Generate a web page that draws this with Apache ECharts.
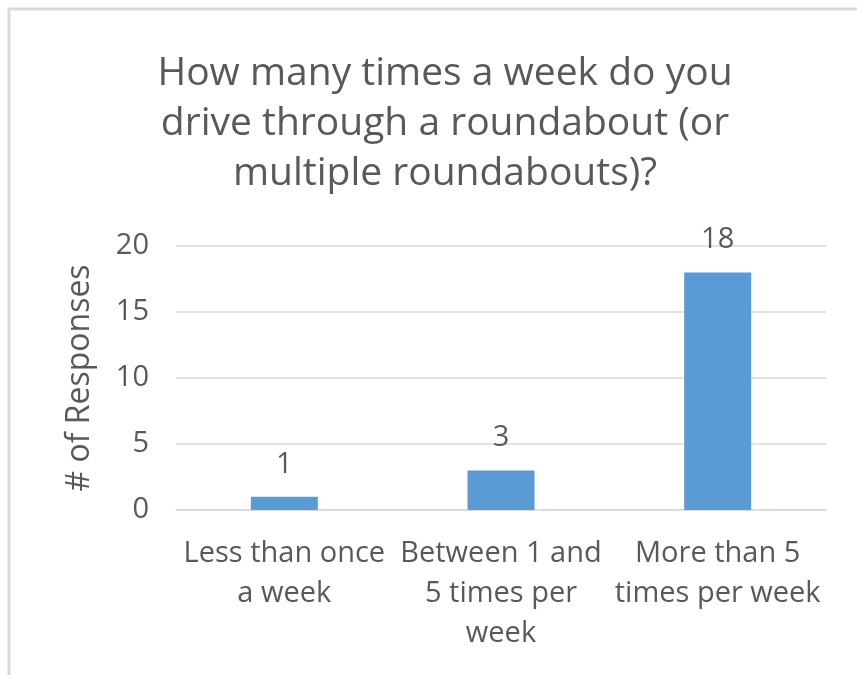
<!DOCTYPE html>
<html>
<head>
<meta charset="utf-8">
<script src="https://cdn.jsdelivr.net/npm/echarts@6/dist/echarts.min.js"></script>
<style>
html,body{margin:0;padding:0;background:#fff;}
#main{width:857px;height:675px;}
</style>
</head>
<body>
<div id="main"></div>
<script>
// survey data
var categories = ['Less than once\na week', 'Between 1 and\n5 times per\nweek', 'More than 5\ntimes per week'];
var responses = [1, 3, 18];
var yTicks = {min: 0, max: 20, interval: 5};

var txt = '#595959';
var font = 'Open Sans';
var myChart = echarts.init(document.getElementById('main'));
var option = {
    backgroundColor: '#fff',
    title: {
        text: 'How many times a week do you\ndrive through a roundabout (or\nmultiple roundabouts)?',
        left: 440,
        top: 44,
        textAlign: 'center',
        textStyle: {fontFamily: font, fontSize: 39, fontWeight: 'normal', color: txt, lineHeight: 50}
    },
    graphic: [{
        type: 'rect',
        shape: {x: 9, y: 9, width: 900, height: 700},
        style: {fill: 'none', stroke: '#d9d9d9', lineWidth: 3}
    }],
    grid: {left: 176, right: 31, top: 246, bottom: 165},
    xAxis: {
        type: 'category',
        data: categories,
        axisLine: {lineStyle: {color: '#d9d9d9', width: 1.5}},
        axisTick: {show: false},
        axisLabel: {fontFamily: font, fontSize: 29, color: txt, lineHeight: 40, margin: 24, interval: 0}
    },
    yAxis: {
        type: 'value',
        min: yTicks.min,
        max: yTicks.max,
        interval: yTicks.interval,
        name: '# of Responses',
        nameLocation: 'middle',
        nameRotate: 90,
        nameGap: 80,
        nameTextStyle: {fontFamily: font, fontSize: 32, color: txt},
        axisLine: {show: false},
        axisTick: {show: false},
        axisLabel: {fontFamily: font, fontSize: 29, color: txt, margin: 27},
        splitLine: {lineStyle: {color: '#d9d9d9', width: 1.5}}
    },
    series: [{
        type: 'bar',
        data: responses,
        barWidth: 67,
        itemStyle: {color: '#5b9bd5'},
        label: {show: true, position: 'top', distance: 18, fontFamily: font, fontSize: 29, color: txt}
    }]
};
myChart.setOption(option);
</script>
</body>
</html>
